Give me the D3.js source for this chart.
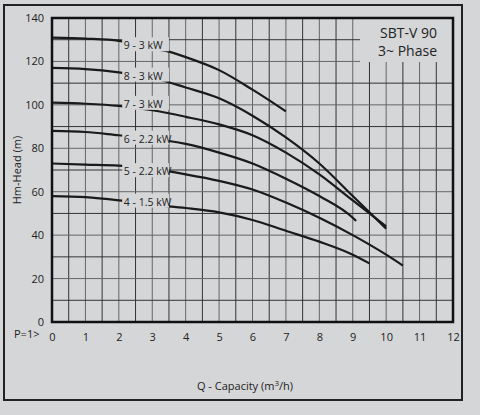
<!DOCTYPE html><html><head><script src="https://cdn.jsdelivr.net/npm/d3@7"></script>
<style>body{margin:0;background:#d5d6d8}text{font-family:"Open Sans",sans-serif;fill:#222}</style></head><body>
<svg id="c" width="480" height="415"></svg>
<script>
const xTicks=[0,1,2,3,4,5,6,7,8,9,10,11,12];
const yTicks=[0,20,40,60,80,100,120,140];
const labels=["9 - 3 kW","8 - 3 kW","7 - 3 kW","6 - 2.2 kW","5 - 2.2 kW","4 - 1.5 kW"];
const q9=[0,1,2,3,3.5,4,5,6,7], h9=[131,130.5,129.5,126,124.5,122,116,107,97];
const q8=[0,1,2,3,4,5,6,7,8,9,10], h8=[117,116.5,115,112.5,108,103,95,85,73,58,43];
const q7=[0,1,2,3,4,5,6,7,8,9,10], h7=[101,100.5,99.5,97.5,94.5,91,86,78,68,56,44];
const q6=[0,1,2,3,4,5,6,7,8,9,9.1], h6=[88,87.5,86,84.5,82,78,73,66,58,48,46.5];
const q5=[0,1,2,3,4,5,6,7,8,9,10,10.5], h5=[73,72.5,72,70.5,68,65,61,55,48,40,31,26];
const q4=[0,1,2,3,4,5,6,7,8,9,9.5], h4=[58,57.5,56,54,52.5,50.5,47,42,37,31,27];
const series=[[q9,h9],[q8,h8],[q7,h7],[q6,h6],[q5,h5],[q4,h4]];
const labelH=[127,113,100,84,69,55];
const svg=d3.select("#c"),bg="#d5d6d8";
const x=d3.scaleLinear().domain([0,12]).range([52,453]);
const y=d3.scaleLinear().domain([0,140]).range([322,18]);
svg.append("rect").attr("x",4).attr("y",5).attr("width",458).attr("height",395).attr("fill",bg).attr("stroke","#222").attr("stroke-width",2);
const g=svg.append("g");
d3.range(0,12.01,0.5).forEach(v=>g.append("line").attr("x1",x(v)).attr("x2",x(v)).attr("y1",y(0)).attr("y2",y(140)).attr("stroke",v%1?"#333":"#666").attr("stroke-width",1));
d3.range(0,140.1,10).forEach(v=>g.append("line").attr("y1",y(v)).attr("y2",y(v)).attr("x1",x(0)).attr("x2",x(12)).attr("stroke",v%20?"#333":"#666").attr("stroke-width",1));
const line=d3.line().x(d=>x(d[0])).y(d=>y(d[1])).curve(d3.curveMonotoneX);
series.forEach(([q,h])=>svg.append("path").attr("d",line(q.map((v,i)=>[v,h[i]]))).attr("fill","none").attr("stroke","#1a1a1a").attr("stroke-width",2.2));
labels.forEach((l,i)=>{
  svg.append("rect").attr("x",x(2.1)).attr("y",y(labelH[i])-9).attr("width",x(3.5)-x(2.1)).attr("height",14).attr("fill",bg);
  svg.append("text").attr("x",x(2.15)).attr("y",y(labelH[i])+3).attr("font-size",10.5).text(l);
});
svg.append("rect").attr("x",360).attr("y",19).attr("width",92).attr("height",43).attr("fill",bg);
svg.append("text").attr("x",437).attr("y",38).attr("text-anchor","end").attr("font-size",14).text("SBT-V 90");
svg.append("text").attr("x",437).attr("y",56).attr("text-anchor","end").attr("font-size",14).text("3~ Phase");
svg.append("rect").attr("x",x(0)).attr("y",y(140)).attr("width",x(12)-x(0)).attr("height",y(0)-y(140)).attr("fill","none").attr("stroke","#111").attr("stroke-width",2.5);
const xa=svg.append("g").attr("transform",`translate(0,${y(0)})`).call(d3.axisBottom(x).tickValues(xTicks).tickSize(0).tickPadding(11));
const ya=svg.append("g").attr("transform",`translate(${x(0)},0)`).call(d3.axisLeft(y).tickValues(yTicks).tickSize(0).tickPadding(8));
[xa,ya].forEach(a=>{a.select(".domain").remove();a.selectAll("text").attr("font-size",11).attr("font-family","Open Sans").attr("fill","#222");});
svg.append("text").attr("x",14).attr("y",338).attr("font-size",11).text("P=1>");
svg.append("text").attr("transform","translate(21,170) rotate(-90)").attr("text-anchor","middle").attr("font-size",11).text("Hm-Head (m)");
const t=svg.append("text").attr("x",245).attr("y",390).attr("text-anchor","middle").attr("font-size",11);
t.append("tspan").text("Q - Capacity (m");t.append("tspan").attr("dy",-4).attr("font-size",8).text("3");t.append("tspan").attr("dy",4).text("/h)");
</script></body></html>
